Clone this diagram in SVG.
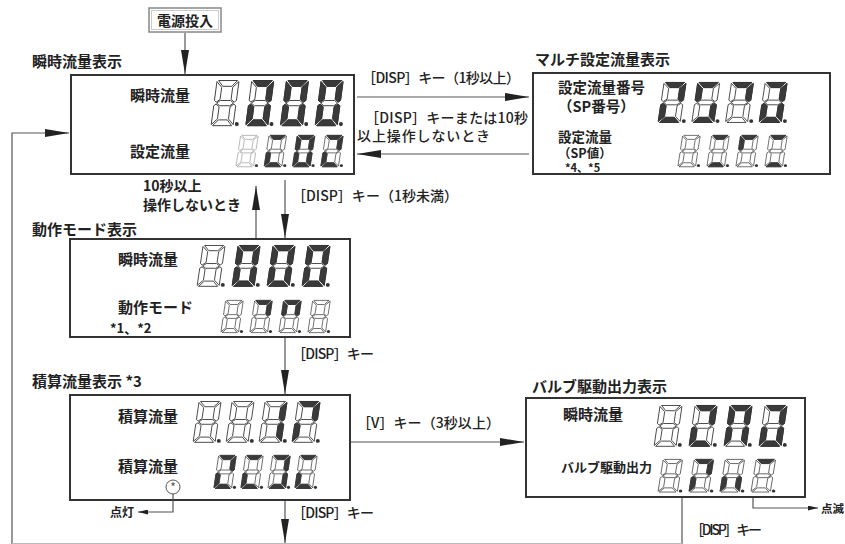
<svg xmlns="http://www.w3.org/2000/svg" width="845" height="544" viewBox="0 0 845 544">
<style>
text{font-family:"Noto Sans CJK JP","Noto Sans",sans-serif;fill:#222}
.t{font-size:15px;font-weight:700}
.lb{font-size:15px;font-weight:700}
.sm{font-size:13px;font-weight:700}
.al{font-size:14px;font-weight:500}
.box{fill:#fff;stroke:#333;stroke-width:2}
.ln{fill:none;stroke:#555;stroke-width:1.2}
.dg{fill:#fff;stroke:#333;stroke-width:0.9;stroke-linejoin:round}
.gr{stroke:#9a9a9a}
.on{fill:#3a3a3a}
</style>
<defs>
<marker id="ah" viewBox="0 0 24 9" refX="24" refY="4.5" markerWidth="24" markerHeight="9" markerUnits="userSpaceOnUse" orient="auto"><path d="M0,0.5 L24,4.5 L0,8.5 Z" fill="#222"/></marker>
<marker id="as" viewBox="0 0 10 5" refX="10" refY="2.5" markerWidth="10" markerHeight="5" markerUnits="userSpaceOnUse" orient="auto"><path d="M0,0 L10,2.5 L0,5 Z" fill="#222"/></marker>
<path id="sa" d="M8.59,0.5 L27.59,0.5 L21.82,6 L12.82,6Z"/>
<path id="sb" d="M28.95,1.5 L26.43,19.5 L24.22,21 L21.07,18.5 L22.68,7Z"/>
<path id="sf" d="M6.95,1.5 L11.68,7 L10.07,18.5 L6.22,21 L4.43,19.5Z"/>
<path id="sg" d="M6.58,22 L10.43,19.5 L20.43,19.5 L23.58,22 L19.73,24.5 L9.73,24.5Z"/>
<path id="sc" d="M25.73,24.5 L23.21,42.5 L18.48,37 L20.09,25.5 L23.94,23Z"/>
<path id="se" d="M3.73,24.5 L5.94,23 L9.09,25.5 L7.48,37 L1.21,42.5Z"/>
<path id="sd" d="M8.34,38 L17.34,38 L21.57,43.5 L2.57,43.5Z"/>
<g id="d8"><use href="#sa"/><use href="#sb"/><use href="#sc"/><use href="#sd"/><use href="#se"/><use href="#sf"/><use href="#sg"/><circle cx="26.8" cy="42" r="2" fill="#333" stroke="none"/></g>
</defs>
<rect width="845" height="544" fill="#fff"/>

<g id="connectors">
<line class="ln" x1="185" y1="33" x2="185" y2="74" marker-end="url(#ah)"/>
<line class="ln" x1="357" y1="97" x2="529" y2="97" marker-end="url(#ah)"/>
<line class="ln" x1="529" y1="154" x2="357" y2="154" marker-end="url(#ah)"/>
<line class="ln" x1="285" y1="180" x2="285" y2="238" marker-end="url(#ah)"/>
<line class="ln" x1="256" y1="239" x2="256" y2="186" marker-end="url(#ah)"/>
<line class="ln" x1="285" y1="337" x2="285" y2="394" marker-end="url(#ah)"/>
<line class="ln" x1="285" y1="500" x2="285" y2="543" marker-end="url(#ah)"/>
<line class="ln" x1="350" y1="442" x2="524" y2="442" marker-end="url(#ah)"/>
<line class="ln" x1="682" y1="497" x2="682" y2="544"/>
<path class="ln" d="M753,497 V508 H818" marker-end="url(#as)"/>
<path class="ln" d="M173,494 V512 H138" marker-end="url(#as)"/>
<path class="ln" d="M12,544 V133 H69" marker-end="url(#ah)"/>
<line x1="12" y1="543.5" x2="682" y2="543.5" stroke="#bbb" stroke-width="1"/>
<text class="al" x="362" y="83" textLength="158">［DISP］キー（1秒以上）</text>
<text class="al" x="365" y="123" textLength="163">［DISP］キーまたは10秒</text>
<text class="al" x="357" y="141" textLength="133">以上操作しないとき</text>
<text class="sm" x="143" y="191" style="font-size:14px">10秒以上</text>
<text class="sm" x="143" y="210" style="font-size:14px">操作しないとき</text>
<text class="al" x="292" y="201" textLength="166">［DISP］キー（1秒未満）</text>
<text class="al" x="292" y="359" textLength="82">［DISP］キー</text>
<text class="al" x="357" y="428" textLength="143">［V］キー（3秒以上）</text>
<text class="al" x="292" y="518" textLength="82">［DISP］キー</text>
<text class="al" x="690" y="535" textLength="72">［DISP］キー</text>
<text x="110" y="517" style="font-size:12px;font-weight:700">点灯</text>
<text x="821" y="513" style="font-size:11.5px;font-weight:700">点滅</text>
</g>

<g id="power">
<rect x="149" y="8" width="72" height="24" fill="#fff" stroke="#888" stroke-width="1.5"/>
<rect x="151.5" y="10.5" width="67" height="19" fill="none" stroke="#ccc" stroke-width="1"/>
<text x="185" y="26" text-anchor="middle" style="font-size:14px;font-weight:700">電源投入</text>
</g>

<g id="instant">
<text class="t" x="32" y="67">瞬時流量表示</text>
<rect class="box" x="71" y="75" width="283" height="99"/>
<text class="lb" x="130" y="101">瞬時流量</text>
<text class="lb" x="130" y="157">設定流量</text>
<g class="dg" transform="translate(210,80) scale(1,1.05)"><use href="#d8"/></g>
<g class="dg" transform="translate(244.7,80) scale(1,1.05)"><use href="#d8"/><use class="on" href="#sa"/><use class="on" href="#sb"/><use class="on" href="#sc"/><use class="on" href="#sd"/><use class="on" href="#se"/></g>
<g class="dg" transform="translate(279.4,80) scale(1,1.05)"><use href="#d8"/><use class="on" href="#sa"/><use class="on" href="#sb"/><use class="on" href="#sc"/><use class="on" href="#sd"/><use class="on" href="#se"/><use class="on" href="#sf"/></g>
<g class="dg" transform="translate(314.1,80) scale(1,1.05)"><use href="#d8"/><use class="on" href="#sa"/><use class="on" href="#sb"/><use class="on" href="#sc"/><use class="on" href="#sd"/><use class="on" href="#se"/><use class="on" href="#sf"/></g>
<g class="dg gr" transform="translate(235,135) scale(0.8,0.73)"><use href="#d8"/></g>
<g class="dg" transform="translate(263.3,135) scale(0.8,0.73)"><use href="#d8"/><use class="on" href="#sa"/><use class="on" href="#sd"/><use class="on" href="#se"/></g>
<g class="dg" transform="translate(291.6,135) scale(0.8,0.73)"><use href="#d8"/><use class="on" href="#sa"/><use class="on" href="#sb"/><use class="on" href="#sc"/><use class="on" href="#sd"/><use class="on" href="#se"/><use class="on" href="#sf"/></g>
<g class="dg" transform="translate(319.9,135) scale(0.8,0.73)"><use href="#d8"/><use class="on" href="#sa"/><use class="on" href="#sb"/><use class="on" href="#sd"/><use class="on" href="#se"/></g>
</g>

<g id="multi">
<text class="t" x="535" y="65">マルチ設定流量表示</text>
<rect class="box" x="533" y="73" width="297" height="101"/>
<text class="lb" x="558" y="93" style="font-size:14.5px">設定流量番号</text>
<text class="lb" x="558" y="112" style="font-size:14.5px">（SP番号）</text>
<text class="lb" x="558" y="142" style="font-size:13.5px">設定流量</text>
<text class="lb" x="558" y="158" style="font-size:12.5px">（SP値）</text>
<text class="sm" x="565" y="172" style="font-size:11px">*4、*5</text>
<g class="dg" transform="translate(657,82) scale(1,0.93)"><use href="#d8"/><use class="on" href="#sa"/><use class="on" href="#sb"/><use class="on" href="#sd"/><use class="on" href="#se"/></g>
<g class="dg" transform="translate(690.7,82) scale(1,0.93)"><use href="#d8"/><use class="on" href="#sa"/><use class="on" href="#sf"/><use class="on" href="#sc"/><use class="on" href="#sd"/></g>
<g class="dg" transform="translate(724.4,82) scale(1,0.93)"><use href="#d8"/><use class="on" href="#sa"/><use class="on" href="#sb"/></g>
<g class="dg" transform="translate(758.1,82) scale(1,0.93)"><use href="#d8"/><use class="on" href="#sa"/><use class="on" href="#sb"/><use class="on" href="#sc"/><use class="on" href="#sd"/><use class="on" href="#se"/></g>
<g class="dg" transform="translate(677,135) scale(0.8,0.73)"><use href="#d8"/></g>
<g class="dg" transform="translate(706,135) scale(0.8,0.73)"><use href="#d8"/><use class="on" href="#sa"/><use class="on" href="#sd"/></g>
<g class="dg" transform="translate(735,135) scale(0.8,0.73)"><use href="#d8"/><use class="on" href="#sa"/><use class="on" href="#sf"/></g>
<g class="dg" transform="translate(764,135) scale(0.8,0.73)"><use href="#d8"/><use class="on" href="#sa"/><use class="on" href="#sd"/></g>
</g>

<g id="mode">
<text class="t" x="32" y="235">動作モード表示</text>
<rect class="box" x="70" y="239" width="280" height="98"/>
<text class="lb" x="118" y="265">瞬時流量</text>
<text class="lb" x="118" y="313">動作モード</text>
<text class="sm" x="110" y="333">*1、*2</text>
<g class="dg" transform="translate(196,245) scale(1,0.95)"><use href="#d8"/></g>
<g class="dg" transform="translate(231,245) scale(1,0.95)"><use href="#d8"/><use class="on" href="#sa"/><use class="on" href="#sb"/><use class="on" href="#sc"/><use class="on" href="#sd"/><use class="on" href="#se"/><use class="on" href="#sf"/></g>
<g class="dg" transform="translate(266,245) scale(1,0.95)"><use href="#d8"/><use class="on" href="#sa"/><use class="on" href="#sb"/><use class="on" href="#sc"/><use class="on" href="#sd"/><use class="on" href="#se"/><use class="on" href="#sf"/></g>
<g class="dg" transform="translate(301,245) scale(1,0.95)"><use href="#d8"/><use class="on" href="#sa"/><use class="on" href="#sb"/><use class="on" href="#sc"/><use class="on" href="#sd"/><use class="on" href="#se"/><use class="on" href="#sf"/></g>
<g class="dg" transform="translate(220,300) scale(0.8,0.75)"><use href="#d8"/></g>
<g class="dg" transform="translate(249,300) scale(0.8,0.75)"><use href="#d8"/><use class="on" href="#sa"/><use class="on" href="#sb"/></g>
<g class="dg" transform="translate(278,300) scale(0.8,0.75)"><use href="#d8"/><use class="on" href="#sa"/><use class="on" href="#sb"/><use class="on" href="#sf"/></g>
<g class="dg" transform="translate(307,300) scale(0.8,0.75)"><use href="#d8"/></g>
</g>

<g id="total">
<text class="t" x="32" y="387">積算流量表示 *3</text>
<rect class="box" x="70" y="395" width="280" height="105"/>
<text class="lb" x="118" y="422">積算流量</text>
<text class="lb" x="118" y="472">積算流量</text>
<circle cx="173" cy="487" r="7" fill="#fff" stroke="#555" stroke-width="1"/>
<text x="173" y="492" text-anchor="middle" style="font-size:12px;font-weight:400;fill:#555">*</text>
<line class="ln" x1="173" y1="494" x2="173" y2="500"/>
<g class="dg" transform="translate(192,401) scale(1,0.95)"><use href="#d8"/></g>
<g class="dg" transform="translate(225,401) scale(1,0.95)"><use href="#d8"/></g>
<g class="dg" transform="translate(258,401) scale(1,0.95)"><use href="#d8"/><use class="on" href="#sb"/><use class="on" href="#sc"/></g>
<g class="dg" transform="translate(291,401) scale(1,0.95)"><use href="#d8"/><use class="on" href="#sa"/><use class="on" href="#sb"/><use class="on" href="#se"/></g>
<g class="dg" transform="translate(213,455) scale(0.8,0.77)"><use href="#d8"/><use class="on" href="#sa"/><use class="on" href="#sb"/><use class="on" href="#sd"/><use class="on" href="#se"/></g>
<g class="dg" transform="translate(240,455) scale(0.8,0.77)"><use href="#d8"/><use class="on" href="#sa"/><use class="on" href="#sd"/><use class="on" href="#se"/></g>
<g class="dg" transform="translate(267,455) scale(0.8,0.77)"><use href="#d8"/><use class="on" href="#sa"/><use class="on" href="#sb"/><use class="on" href="#sc"/><use class="on" href="#sd"/></g>
<g class="dg" transform="translate(294,455) scale(0.8,0.77)"><use href="#d8"/><use class="on" href="#sa"/><use class="on" href="#sd"/><use class="on" href="#se"/></g>
</g>

<g id="valve">
<text class="t" x="532" y="392">バルブ駆動出力表示</text>
<rect class="box" x="526" y="398" width="279" height="99"/>
<text class="lb" x="563" y="420">瞬時流量</text>
<text class="lb" x="561" y="472" style="font-size:13px">バルブ駆動出力</text>
<g class="dg" transform="translate(653,405) scale(1,0.95)"><use href="#d8"/></g>
<g class="dg" transform="translate(688,405) scale(1,0.95)"><use href="#d8"/><use class="on" href="#sa"/><use class="on" href="#sb"/><use class="on" href="#sd"/><use class="on" href="#se"/></g>
<g class="dg" transform="translate(723,405) scale(1,0.95)"><use href="#d8"/><use class="on" href="#sa"/><use class="on" href="#sb"/><use class="on" href="#sc"/><use class="on" href="#se"/><use class="on" href="#sf"/></g>
<g class="dg" transform="translate(758,405) scale(1,0.95)"><use href="#d8"/><use class="on" href="#sa"/><use class="on" href="#sb"/><use class="on" href="#sc"/><use class="on" href="#sd"/><use class="on" href="#se"/></g>
<g class="dg" transform="translate(657,459) scale(0.88,0.76)"><use href="#d8"/></g>
<g class="dg" transform="translate(688,459) scale(0.88,0.76)"><use href="#d8"/><use class="on" href="#sa"/><use class="on" href="#sb"/><use class="on" href="#se"/></g>
<g class="dg" transform="translate(719,459) scale(0.88,0.76)"><use href="#d8"/><use class="on" href="#sc"/><use class="on" href="#se"/></g>
<g class="dg" transform="translate(750,459) scale(0.88,0.76)"><use href="#d8"/><use class="on" href="#sa"/></g>
</g>
</svg>
